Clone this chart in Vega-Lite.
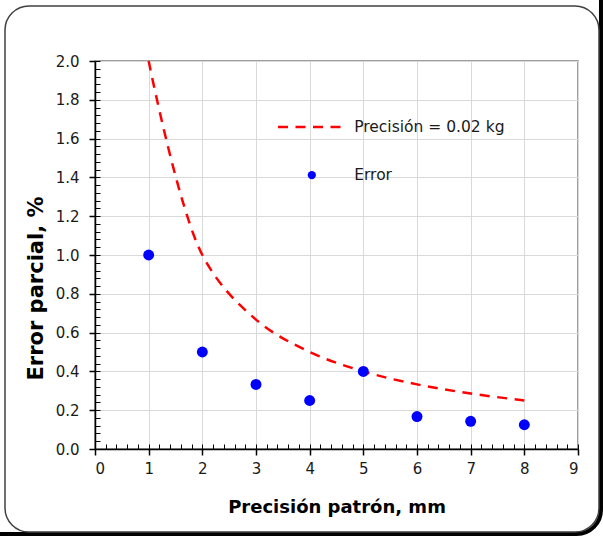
{
  "$schema": "https://vega.github.io/schema/vega-lite/v6.json",
  "width": 483,
  "height": 388,
  "autosize": {"type": "none"},
  "padding": {"left": 95, "top": 61, "right": 25, "bottom": 88},
  "background": "white",
  "config": {
    "view": {"stroke": "#7f7f7f", "strokeWidth": 1.5},
    "font": "DejaVu Sans"
  },
  "datasets": {
    "errors": [
      {"precision": 1, "error": 1.0},
      {"precision": 2, "error": 0.5},
      {"precision": 3, "error": 0.333},
      {"precision": 4, "error": 0.25},
      {"precision": 5, "error": 0.4},
      {"precision": 6, "error": 0.167},
      {"precision": 7, "error": 0.143},
      {"precision": 8, "error": 0.125}
    ],
    "curve": [
      {"precision": 1, "error": 2.0},
      {"precision": 2, "error": 1.0},
      {"precision": 3, "error": 0.667},
      {"precision": 4, "error": 0.5},
      {"precision": 5, "error": 0.4},
      {"precision": 6, "error": 0.333},
      {"precision": 7, "error": 0.286},
      {"precision": 8, "error": 0.25}
    ],
    "one": [{}]
  },
  "resolve": {"axis": {"x": "independent", "y": "independent"}},
  "layer": [
    {
      "data": {"name": "one"},
      "mark": {"type": "rect", "fill": null, "stroke": "#000000", "strokeWidth": 4, "cornerRadius": 24, "x2Offset": 2, "yOffset": 2},
      "encoding": {
        "x": {"datum": -3, "type": "quantitative", "scale": {"domain": [0, 9], "nice": false, "zero": false}, "axis": null},
        "x2": {"datum": 9.391},
        "y": {"datum": -0.4278, "type": "quantitative", "scale": {"domain": [0, 2], "nice": false, "zero": false}, "axis": null},
        "y2": {"datum": 3}
      }
    },
    {
      "data": {"name": "one"},
      "mark": {"type": "rect", "fill": null, "stroke": "#404040", "strokeWidth": 1.5, "cornerRadius": 24},
      "encoding": {
        "x": {"datum": -1.677, "type": "quantitative", "axis": null},
        "x2": {"datum": 9.391},
        "y": {"datum": -0.4278, "type": "quantitative", "axis": null},
        "y2": {"datum": 2.2835}
      }
    },
    {
      "data": {"name": "errors"},
      "mark": {"type": "point", "opacity": 0},
      "encoding": {
        "x": {"field": "precision", "type": "quantitative",
          "axis": {"orient": "bottom", "title": null, "labels": false, "domain": false, "grid": false,
            "values": [0,0.2,0.4,0.6,0.8,1,1.2,1.4,1.6,1.8,2,2.2,2.4,2.6,2.8,3,3.2,3.4,3.6,3.8,4,4.2,4.4,4.6,4.8,5,5.2,5.4,5.6,5.8,6,6.2,6.4,6.6,6.8,7,7.2,7.4,7.6,7.8,8,8.2,8.4,8.6,8.8,9],
            "tickSize": -5, "tickColor": "#000000", "tickWidth": 1}},
        "y": {"field": "error", "type": "quantitative",
          "axis": {"orient": "left", "title": null, "labels": false, "domain": false, "grid": false,
            "values": [0,0.04,0.08,0.12,0.16,0.2,0.24,0.28,0.32,0.36,0.4,0.44,0.48,0.52,0.56,0.6,0.64,0.68,0.72,0.76,0.8,0.84,0.88,0.92,0.96,1,1.04,1.08,1.12,1.16,1.2,1.24,1.28,1.32,1.36,1.4,1.44,1.48,1.52,1.56,1.6,1.64,1.68,1.72,1.76,1.8,1.84,1.88,1.92,1.96,2],
            "tickSize": -5, "tickColor": "#000000", "tickWidth": 1}}
      }
    },
    {
      "data": {"name": "curve"},
      "mark": {"type": "line", "color": "#FF0000", "strokeWidth": 2.5, "strokeDash": [10, 7.5], "interpolate": "catmull-rom"},
      "encoding": {
        "x": {"field": "precision", "type": "quantitative",
          "axis": {"orient": "bottom", "title": "Precisión patrón, mm", "values": [0,1,2,3,4,5,6,7,8,9],
            "grid": true, "gridColor": "#d9d9d9", "gridWidth": 1,
            "domainColor": "#000000", "domainWidth": 1.5, "tickColor": "#000000", "tickWidth": 1.5, "tickSize": 6,
            "labelFont": "DejaVu Sans", "labelFontSize": 15, "labelColor": "#1a1a1a", "labelPadding": 6,
            "titleFont": "DejaVu Sans", "titleFontSize": 18, "titleFontWeight": "bold", "titleColor": "#000000", "titlePadding": 22}},
        "y": {"field": "error", "type": "quantitative",
          "axis": {"orient": "left", "title": "Error parcial, %", "values": [0,0.2,0.4,0.6,0.8,1,1.2,1.4,1.6,1.8,2], "format": ".1f",
            "grid": true, "gridColor": "#d9d9d9", "gridWidth": 1,
            "domainColor": "#000000", "domainWidth": 1.5, "tickColor": "#000000", "tickWidth": 1.5, "tickSize": 6,
            "labelFont": "DejaVu Sans", "labelFontSize": 15, "labelColor": "#1a1a1a", "labelPadding": 10,
            "titleFont": "DejaVu Sans", "titleFontSize": 21, "titleFontWeight": "bold", "titleColor": "#000000", "titlePadding": 9, "titleY": 227}}
      }
    },
    {
      "data": {"name": "errors"},
      "mark": {"type": "circle", "color": "#0000FF", "size": 120, "opacity": 1},
      "encoding": {
        "x": {"field": "precision", "type": "quantitative", "axis": null},
        "y": {"field": "error", "type": "quantitative", "axis": null}
      }
    },
    {
      "data": {"name": "one"},
      "mark": {"type": "rule", "color": "#FF0000", "strokeWidth": 2.5, "strokeDash": [10, 7.5]},
      "encoding": {
        "x": {"datum": 3.41, "type": "quantitative", "axis": null},
        "x2": {"datum": 4.58},
        "y": {"datum": 1.66, "type": "quantitative", "axis": null}
      }
    },
    {
      "data": {"name": "one"},
      "mark": {"type": "circle", "color": "#0000FF", "size": 68, "opacity": 1},
      "encoding": {
        "x": {"datum": 4.04, "type": "quantitative", "axis": null},
        "y": {"datum": 1.412, "type": "quantitative", "axis": null}
      }
    },
    {
      "data": {"values": [{"label": "Precisión = 0.02 kg", "lx": 4.83, "ly": 1.66}, {"label": "Error", "lx": 4.83, "ly": 1.412}]},
      "mark": {"type": "text", "align": "left", "baseline": "middle", "font": "DejaVu Sans", "fontSize": 15.5, "color": "#1a1a1a"},
      "encoding": {
        "x": {"field": "lx", "type": "quantitative", "axis": null},
        "y": {"field": "ly", "type": "quantitative", "axis": null},
        "text": {"field": "label"}
      }
    }
  ]
}
